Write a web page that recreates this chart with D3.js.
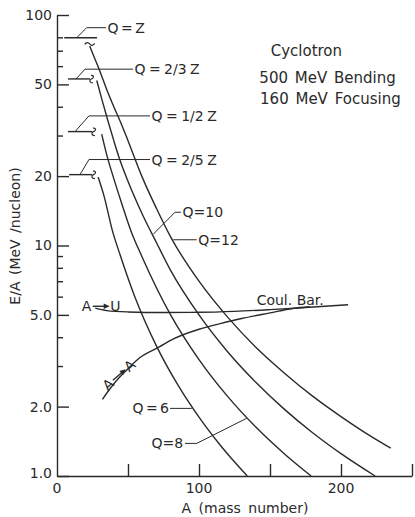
<!DOCTYPE html>
<html><head><meta charset="utf-8">
<script src="https://cdn.jsdelivr.net/npm/d3@7/dist/d3.min.js"></script>
<style>
html,body{margin:0;padding:0;background:#fff;}
text{font-family:"DejaVu Sans",sans-serif;fill:#2a2a2a;}
</style></head><body><svg id="c" width="415" height="517"></svg>
<script>
// ---- data ----
const xTickValues = [50, 100, 150, 200, 250];
const xLabelValues = [0, 100, 200];
const xLabelTexts = ["0", "100", "200"];
const yMajorValues = [1, 2, 5, 10, 20, 50, 100];
const yMajorLabels = ["1.0", "2.0", "5.0", "10", "20", "50", "100"];
const yMinorValues = [3, 4, 6, 7, 8, 9, 30, 40, 60, 70, 80];

const q6A = [29, 33, 39, 45, 55, 70, 85, 100, 115, 134];
const q6E = [19.8, 16.5, 11.6, 8.9, 5.95, 3.67, 2.49, 1.80, 1.36, 1.0];
const q8A = [31.5, 35, 40, 45, 52, 60, 80, 100, 120, 140, 160, 179];
const q8E = [30.4, 24.8, 19.5, 15.6, 11.6, 8.9, 5.0, 3.2, 2.22, 1.63, 1.25, 1.0];
const q10A = [28, 32, 36, 40, 44, 50, 60, 70, 80, 100, 120, 140, 160, 180, 200, 224];
const q10E = [52, 42.2, 34.5, 28.5, 23.8, 19.0, 13.7, 10.3, 7.8, 5.0, 3.47, 2.55, 1.95, 1.54, 1.25, 1.0];
const q12A = [23, 26, 30, 35, 40, 45, 50, 60, 70, 80, 100, 120, 140, 160, 180, 200, 220, 235];
const q12E = [73.4, 66, 57.5, 47.5, 40, 34, 28.5, 19.8, 14.5, 10.9, 7.0, 4.9, 3.62, 2.8, 2.22, 1.81, 1.5, 1.32];
const auA = [27, 35, 50, 75, 100, 125, 150, 175, 205];
const auE = [5.35, 5.22, 5.15, 5.12, 5.13, 5.18, 5.27, 5.38, 5.53];
const aaA = [32, 38, 44, 50, 58, 72, 82, 100, 115, 130, 150, 166, 178];
const aaE = [2.15, 2.42, 2.68, 2.92, 3.25, 3.63, 3.93, 4.33, 4.58, 4.82, 5.1, 5.33, 5.42];

const qFracLabels = ["Q = Z", "Q = 2/3 Z", "Q = 1/2 Z", "Q = 2/5 Z"];
const qFracE = [79.7, 52.8, 31.2, 20.3];
const qFracA0 = [5.1, 7.7, 7.7, 8.5];
const qFracA1 = [28.2, 23.2, 24.6, 24.6];

const cycloLines = ["Cyclotron", "500 MeV Bending", "160 MeV Focusing"];

// ---- chart ----
const svg = d3.select("#c");
const ink = "#2a2a2a";
const x = d3.scaleLinear().domain([0, 250]).range([57, 412]);
const y = d3.scaleLog().domain([1, 100]).range([476, 15]);

// axes
const yAx = svg.append("g").attr("transform", "translate(57,0)")
  .call(d3.axisLeft(y).tickValues(yMajorValues).tickFormat((d, i) => yMajorLabels[i])
    .tickSizeInner(-12).tickSizeOuter(0).tickPadding(5));
const yMin = svg.append("g").attr("transform", "translate(57,0)")
  .call(d3.axisLeft(y).tickValues(yMinorValues).tickFormat("").tickSize(-6));
yMin.select(".domain").remove();
const xAx = svg.append("g").attr("transform", "translate(0,476)")
  .call(d3.axisBottom(x).tickValues(xTickValues).tickFormat("").tickSizeInner(-12).tickSizeOuter(0));
svg.selectAll(".domain, .tick line").attr("stroke", ink).attr("stroke-width", 1.4);
svg.selectAll(".tick text").attr("font-size", 14).attr("fill", ink)
  .attr("font-family", "DejaVu Sans");
yAx.selectAll(".tick text").filter(d => d === 1).attr("dy", "0.1em");

svg.append("g").selectAll("text").data(xLabelValues).join("text")
  .attr("x", d => x(d)).attr("y", 488).attr("text-anchor", "middle")
  .attr("dominant-baseline", "central").attr("font-size", 14)
  .text((d, i) => xLabelTexts[i]);

svg.append("text").attr("x", 245).attr("y", 508).attr("text-anchor", "middle")
  .attr("dominant-baseline", "central").attr("font-size", 14).attr("word-spacing", 3)
  .text("A (mass number)");
svg.append("text").attr("transform", "translate(15,236) rotate(-90)")
  .attr("text-anchor", "middle").attr("dominant-baseline", "central")
  .attr("font-size", 14).attr("word-spacing", 2).text("E/A (MeV /nucleon)");

// curves
const line = d3.line().x(d => x(d[0])).y(d => y(d[1])).curve(d3.curveMonotoneX);
const series = [[q6A, q6E], [q8A, q8E], [q10A, q10E], [q12A, q12E], [auA, auE], [aaA, aaE]];
svg.append("g").selectAll("path").data(series).join("path")
  .attr("d", s => line(s[0].map((a, i) => [a, s[1][i]])))
  .attr("fill", "none").attr("stroke", ink).attr("stroke-width", 1.4);

// horizontal Q/Z limits
const g = svg.append("g").attr("stroke", ink).attr("fill", "none");
qFracE.forEach((e, i) => {
  g.append("line").attr("x1", x(qFracA0[i])).attr("x2", x(qFracA1[i]))
    .attr("y1", y(e)).attr("y2", y(e)).attr("stroke-width", 1.4);
});
// break marks
const tx = x(q12A[0]), ty = y(q12E[0]) - 2.5;
g.append("path").attr("stroke-width", 1.2)
  .attr("d", `M${tx - 5},${ty + 1} q2.5,-3.5 5,-0.5 t5,-0.5`);
[1, 2, 3].forEach(i => {
  const sx = x(qFracA1[i]) + 2, sy = y(qFracE[i]);
  g.append("path").attr("stroke-width", 1.2)
    .attr("d", `M${sx - 1},${sy - 3.5} c3,-0.5 3.5,2.5 0.5,3.5 c-2.5,1 -2,4 1.5,4`);
});

// leaders for Q/Z labels
const ldStartA = [13.9, 13.4, 12.7, 16.2];
const ldElbow = [[20.9, 88.1], [19.7, 58.2], [22.5, 36.5], [22.5, 23.6]];
const ldEndA = [34.5, 53.5, 65.5, 65.5];
qFracLabels.forEach((t, i) => {
  const p = [[ldStartA[i], qFracE[i]], ldElbow[i], [ldEndA[i], ldElbow[i][1]]];
  g.append("path").attr("stroke-width", 1)
    .attr("d", d3.line().x(d => x(d[0])).y(d => y(d[1]))(p));
  svg.append("text").attr("x", x(ldEndA[i]) + 1.5).attr("y", y(ldElbow[i][1]))
    .attr("dominant-baseline", "central").attr("font-size", 14)
    .attr("word-spacing", i === 0 ? -2 : -1).text(t);
});

// Q = const labels
function leader(pts) {
  g.append("path").attr("stroke-width", 1)
    .attr("d", d3.line().x(d => x(d[0])).y(d => y(d[1]))(pts));
}
leader([[67.8, 11.2], [83.1, 13.94], [87.3, 13.94]]);
svg.append("text").attr("x", x(88.4)).attr("y", y(13.94)).attr("dominant-baseline", "central")
  .attr("font-size", 14).text("Q=10");
leader([[81.9, 10.59], [98.4, 10.59]]);
svg.append("text").attr("x", x(99.5)).attr("y", y(10.59)).attr("dominant-baseline", "central")
  .attr("font-size", 14).text("Q=12");
leader([[79.6, 1.965], [94.9, 1.965]]);
svg.append("text").attr("x", x(78.9)).attr("y", y(1.965)).attr("dominant-baseline", "central")
  .attr("text-anchor", "end").attr("font-size", 14).attr("word-spacing", -2).text("Q = 6");
leader([[90.1, 1.385], [98.4, 1.385], [133.6, 1.78]]);
svg.append("text").attr("x", x(88.9)).attr("y", y(1.385)).attr("dominant-baseline", "central")
  .attr("text-anchor", "end").attr("font-size", 14).text("Q=8");

svg.append("text").attr("x", x(140.6)).attr("y", y(5.8)).attr("dominant-baseline", "central")
  .attr("font-size", 14).text("Coul. Bar.");

// A -> U label
function arrowLabel(gg, a1, a2) {
  gg.append("text").attr("x", 0).attr("y", 0).attr("dominant-baseline", "central")
    .attr("font-size", 14).text(a1);
  gg.append("line").attr("x1", 11).attr("x2", 23).attr("y1", 0).attr("y2", 0)
    .attr("stroke", ink).attr("stroke-width", 1.4);
  gg.append("path").attr("d", "M22,-2.8 L28,0 L22,2.8 Z").attr("fill", ink);
  gg.append("text").attr("x", 28.5).attr("y", 0).attr("dominant-baseline", "central")
    .attr("font-size", 14).text(a2);
}
arrowLabel(svg.append("g").attr("transform", `translate(${x(17.4)},${y(5.45)})`), "A", "U");
arrowLabel(svg.append("g").attr("transform", `translate(${x(33.5)},${y(2.42)}) rotate(-41)`), "A", "A");

// cyclotron annotation
const cycA = [150.5, 142.5, 143];
const cycE = [69.9, 53.5, 43.1];
svg.append("g").selectAll("text").data(cycloLines).join("text")
  .attr("x", (d, i) => x(cycA[i])).attr("y", (d, i) => y(cycE[i]))
  .attr("dominant-baseline", "central").attr("font-size", 15).attr("word-spacing", 2)
  .text(d => d);
</script></body></html>
